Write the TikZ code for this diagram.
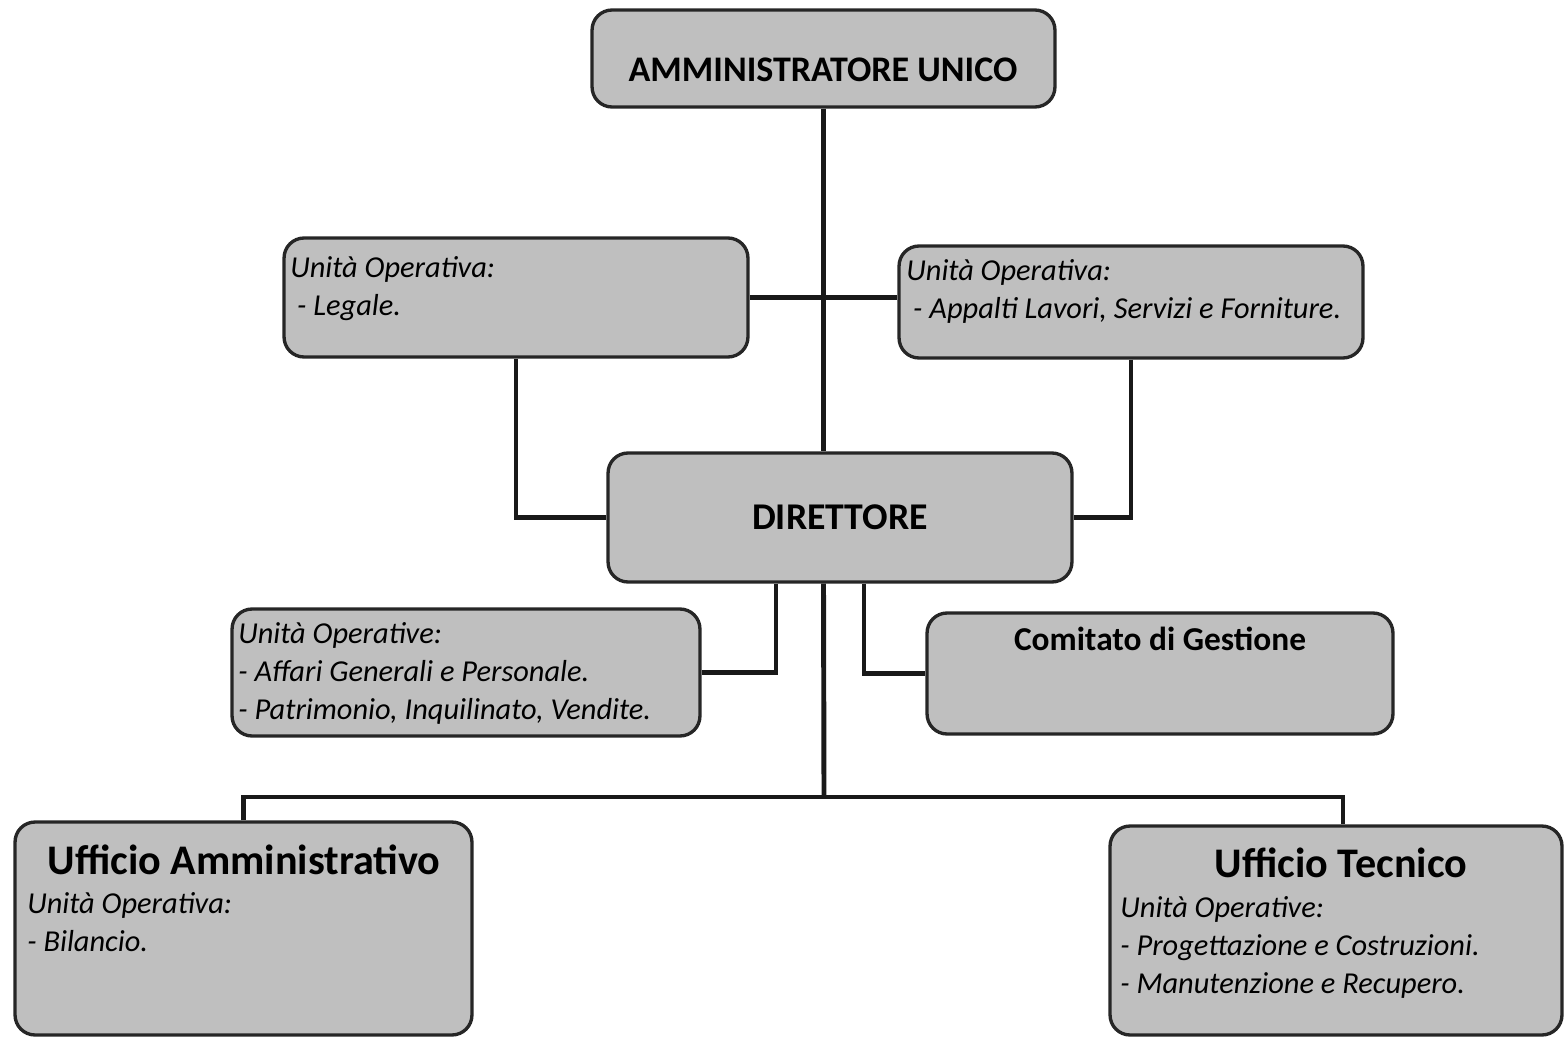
\documentclass[tikz,border=0pt]{standalone}
\usepackage{fontspec}
\setmainfont{Carlito}
\usepackage{tikz}

\begin{document}
\begin{tikzpicture}[x=0.02cm, y=-0.02cm,
    box/.style={draw=black!85, fill=black!25, line width=1.9pt, rounded corners=0.4cm, inner sep=0pt},
    head/.style={font=\fontsize{20.5}{24}\selectfont\bfseries, inner sep=0pt},
    title/.style={font=\fontsize{24}{28}\selectfont\bfseries, inner sep=0pt},
    units/.style={font=\fontsize{17.3}{21.6}\selectfont\itshape, align=left, anchor=north west, inner sep=0pt},
    link/.style={draw=black!90, line width=2.8pt}]
    \useasboundingbox (0,0) rectangle (1564,1037);

    % boxes
    \node[box, minimum width=9.26cm, minimum height=1.94cm] (au) at (823.5,58.5) {};
    \node[box, minimum width=9.28cm, minimum height=2.38cm] (legale) at (516,297.5) {};
    \node[box, minimum width=9.28cm, minimum height=2.24cm] (appalti) at (1131,302) {};
    \node[box, minimum width=9.28cm, minimum height=2.58cm, head, font=\fontsize{21.5}{25}\selectfont\bfseries] (dir) at (840,517.5) {DIRETTORE};
    \node[box, minimum width=9.36cm, minimum height=2.54cm] (affari) at (466,672.5) {};
    \node[box, minimum width=9.32cm, minimum height=2.42cm] (comitato) at (1160,673.5) {};
    \node[box, minimum width=9.14cm, minimum height=4.26cm] (uamm) at (243.5,928.5) {};
    \node[box, minimum width=9.04cm, minimum height=4.18cm] (utec) at (1336,930.5) {};

    % texts
    \node[head] (autxt) at (823,70) {AMMINISTRATORE UNICO};
    \node[units] (legaletxt) at (290,256) {Unità Operativa:\\ \ - Legale.};
    \node[units] (appaltitxt) at (906,259) {Unità Operativa:\\ \ - Appalti Lavori, Servizi e Forniture.};
    \node[units] (affaritxt) at (238,622) {Unità Operative:\\- Affari Generali e Personale.\\- Patrimonio, Inquilinato, Vendite.};
    \node[head, font=\fontsize{19}{23}\selectfont\bfseries] (comtxt) at (1160,639) {Comitato di Gestione};
    \node[title] (uammtxt) at (244,860) {Ufficio Amministrativo};
    \node[units] (uammunits) at (27,892) {Unità Operativa:\\- Bilancio.};
    \node[title] (utectxt) at (1341,863) {Ufficio Tecnico};
    \node[units] (utecunits) at (1120,896) {Unità Operative:\\- Progettazione e Costruzioni.\\- Manutenzione e Recupero.};

    % connectors
    \draw[link] (au.south) -- (au.south |- dir.north);
    \draw[link] (legale.east) -- (legale.east -| appalti.west);
    \draw[link] (legale.south) |- (dir.west);
    \draw[link] (appalti.south) |- (dir.east);
    \draw[link] ([xshift=-1.28cm]dir.south) |- (affari.east);
    \draw[link] ([xshift=0.48cm]dir.south) |- (comitato.west);
    \coordinate (bus) at (824,797);
    \draw[link] (au.south |- dir.south) -- (bus);
    \draw[link] (uamm.north) |- (bus) -| ([xshift=0.14cm]utec.north);
\end{tikzpicture}
\end{document}
